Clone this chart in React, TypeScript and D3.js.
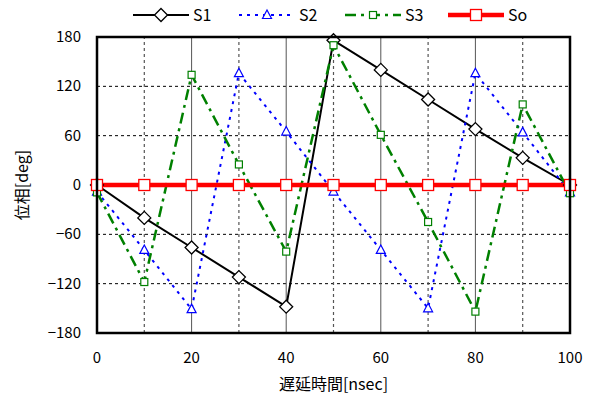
import React from 'react';
import * as d3 from 'd3';

const delays = [0, 10, 20, 30, 40, 50, 60, 70, 80, 90, 100];
const s1 = [0, -40, -76, -112, -148, 176, 140, 104, 68, 33, 0];
const s2 = [-8, -79, -151, 136, 65, -8, -79, -150, 136, 64, -9];
const s3 = [-9, -118, 134, 25, -81, 170, 61, -45, -154, 98, -10];
const so = [0, 0, 0, 0, 0, 0, 0, 0, 0, 0, 0];
const xTicks = [0, 20, 40, 60, 80, 100];
const yTicks = [-180, -120, -60, 0, 60, 120, 180];
const yGrid = [-120, -60, 60, 120];
const xMinor = [10, 30, 50, 70, 90];
const xMajor = [20, 40, 60, 80];

const width = 595;
const height = 397;
const margin = { left: 97, right: 25, top: 37, bottom: 64 };
const font = '"Noto Sans CJK JP", "Liberation Sans", sans-serif';

const series = [
  { name: 'S1', values: s1, color: '#000', width: 2, dash: null, marker: 'diamond', lx: 133 },
  { name: 'S2', values: s2, color: '#0000ff', width: 2, dash: '3,5', marker: 'triangle', lx: 239 },
  { name: 'S3', values: s3, color: '#008000', width: 2.5, dash: '11,5,3,5', marker: 'square', lx: 345 },
  { name: 'So', values: so, color: '#ff0000', width: 4.5, dash: null, marker: 'bigsquare', lx: 448 },
];

const Marker = ({ type, x, y, color }: { type: string; x: number; y: number; color: string }) => {
  if (type === 'diamond') {
    const r = 6.5;
    return (
      <path
        d={`M${x},${y - r}L${x + r},${y}L${x},${y + r}L${x - r},${y}Z`}
        fill="#fff"
        stroke={color}
        strokeWidth={1.3}
      />
    );
  }
  if (type === 'triangle') {
    return (
      <path
        d={`M${x},${y - 5}L${x + 4.5},${y + 3.5}L${x - 4.5},${y + 3.5}Z`}
        fill="#fff"
        stroke={color}
        strokeWidth={1.2}
      />
    );
  }
  if (type === 'square') {
    return <rect x={x - 3.5} y={y - 3.5} width={7} height={7} fill="#fff" stroke={color} strokeWidth={1.2} />;
  }
  return <rect x={x - 5.5} y={y - 5.5} width={11} height={11} fill="#fff" stroke={color} strokeWidth={1.3} />;
};

export default function App() {
  const x = d3.scaleLinear().domain([0, 100]).range([margin.left, width - margin.right]);
  const y = d3.scaleLinear().domain([-180, 180]).range([height - margin.bottom, margin.top]);

  const line = d3
    .line<number>()
    .x((_, i) => x(delays[i]))
    .y((d) => y(d));

  return (
    <svg width={width} height={height} style={{ position: 'absolute', left: 0, top: 0 }}>
      <rect width={width} height={height} fill="#fff" />

      {/* grid */}
      {yGrid.map((t) => (
        <line key={'yg' + t} x1={x(0)} x2={x(100)} y1={y(t)} y2={y(t)} stroke="#000" strokeWidth={1} strokeDasharray="3,3" />
      ))}
      {xMinor.map((t) => (
        <line key={'xm' + t} x1={x(t)} x2={x(t)} y1={y(-180)} y2={y(180)} stroke="#555" strokeWidth={1.2} strokeDasharray="3,3" />
      ))}
      {xMajor.map((t) => (
        <line key={'xM' + t} x1={x(t)} x2={x(t)} y1={y(-180)} y2={y(180)} stroke="#555" strokeWidth={1} />
      ))}

      {/* series */}
      {series.map((s) => (
        <path
          key={s.name}
          d={line(s.values) || ''}
          fill="none"
          stroke={s.color}
          strokeWidth={s.width}
          strokeDasharray={s.dash || undefined}
        />
      ))}
      {series.map((s) =>
        s.values.map((v, i) => (
          <Marker key={s.name + i} type={s.marker} x={x(delays[i])} y={y(v)} color={s.color} />
        ))
      )}

      {/* frame */}
      <rect
        x={x(0)}
        y={y(180)}
        width={x(100) - x(0)}
        height={y(-180) - y(180)}
        fill="none"
        stroke="#000"
        strokeWidth={2.5}
      />

      {/* ticks */}
      {yTicks.map((t) => (
        <text key={'yt' + t} x={x(0) - 16} y={y(t) + 5} textAnchor="end" fontSize={15} fontFamily={font} fill="#000">
          {t < 0 ? '\u2212' + Math.abs(t) : t}
        </text>
      ))}
      {xTicks.map((t) => (
        <text key={'xt' + t} x={x(t)} y={y(-180) + 30} textAnchor="middle" fontSize={15} fontFamily={font} fill="#000">
          {t}
        </text>
      ))}

      {/* axis titles */}
      <text x={(x(0) + x(100)) / 2} y={390} textAnchor="middle" fontSize={16} fontFamily={font} fill="#000">
        遅延時間[nsec]
      </text>
      <text
        transform={`translate(28,${y(0)}) rotate(-90)`}
        textAnchor="middle"
        fontSize={16}
        fontFamily={font}
        fill="#000"
      >
        位相[deg]
      </text>

      {/* legend */}
      {series.map((s) => (
        <g key={'lg' + s.name}>
          <line
            x1={s.lx}
            x2={s.lx + 56}
            y1={15}
            y2={15}
            stroke={s.color}
            strokeWidth={s.width}
            strokeDasharray={s.dash || undefined}
          />
          <Marker type={s.marker} x={s.lx + 28} y={15} color={s.color} />
          <text x={s.lx + 60} y={21} fontSize={16} fontFamily={font} fill="#000">
            {s.name}
          </text>
        </g>
      ))}
    </svg>
  );
}
